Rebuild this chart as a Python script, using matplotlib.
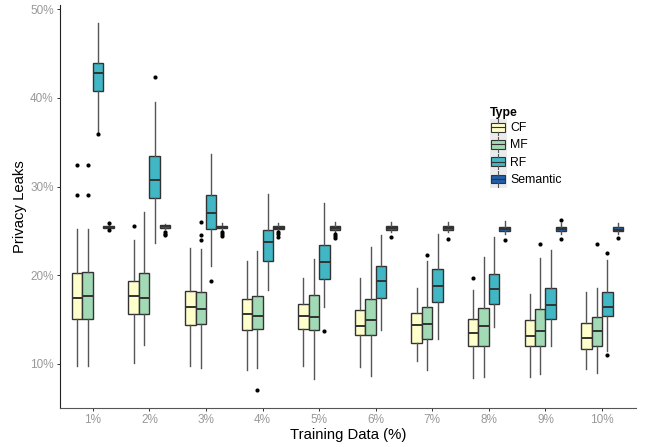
import matplotlib
matplotlib.use("Agg")
import matplotlib.pyplot as plt
from matplotlib.patches import Patch, Rectangle
from matplotlib.lines import Line2D
from matplotlib.legend_handler import HandlerBase

plt.rcParams['font.family'] = ['Liberation Sans', 'DejaVu Sans']

# training data sizes (x categories)
sizes = ['1%', '2%', '3%', '4%', '5%', '6%', '7%', '8%', '9%', '10%']
types = ['CF', 'MF', 'RF', 'Semantic']
colors = ['#ffffcc', '#a1dab4', '#41b6c4', '#225ea8']

# box stats (privacy leaks, %)
cf_lo = [9.7, 10.1, 9.7, 9.3, 9.7, 9.6, 10.3, 8.4, 8.5, 9.4]
cf_q1 = [15.0, 15.6, 14.4, 13.8, 13.9, 13.2, 12.4, 12.0, 12.0, 11.7]
cf_med = [17.4, 17.7, 16.4, 15.6, 15.4, 14.3, 14.4, 13.5, 13.1, 12.9]
cf_q3 = [20.3, 19.3, 18.2, 17.3, 16.8, 16.1, 15.7, 15.0, 14.9, 14.6]
cf_hi = [25.2, 24.0, 23.1, 21.6, 19.7, 19.7, 18.5, 18.3, 17.85, 18.15]
cf_out = [[32.4, 29.0], [25.5], [], [], [], [], [], [19.7], [], []]

mf_lo = [9.7, 12.1, 9.5, 9.5, 8.3, 8.6, 9.3, 8.5, 8.9, 8.95]
mf_q1 = [15.0, 15.6, 14.5, 13.9, 13.8, 13.2, 12.8, 12.0, 12.0, 12.0]
mf_med = [17.6, 17.4, 16.2, 15.4, 15.3, 14.9, 14.5, 14.3, 13.75, 13.7]
mf_q3 = [20.4, 20.3, 18.1, 17.7, 17.8, 17.3, 16.4, 16.3, 16.2, 15.3]
mf_hi = [25.2, 27.1, 23.0, 22.7, 21.8, 23.2, 21.6, 22.1, 21.9, 18.5]
mf_out = [[32.4, 29.0], [], [26.0, 24.5, 24.0], [7.1], [], [], [22.3], [], [23.5], [23.5]]

rf_lo = [36.2, 23.6, 21.0, 18.3, 16.4, 13.8, 12.8, 14.2, 12.0, 11.4]
rf_q1 = [40.8, 28.7, 25.2, 21.6, 19.6, 17.4, 16.95, 16.8, 15.1, 15.4]
rf_med = [42.8, 30.7, 27.0, 23.75, 21.5, 19.3, 18.8, 18.4, 16.6, 16.45]
rf_q3 = [44.0, 33.4, 29.0, 25.1, 23.4, 21.0, 20.7, 20.1, 18.6, 18.15]
rf_hi = [48.5, 39.6, 33.7, 29.2, 28.1, 24.5, 24.6, 24.3, 22.8, 21.7]
rf_out = [[35.9], [42.4], [19.3], [], [13.7], [], [], [], [], [22.5, 10.95]]

sem_lo = [25.15, 25.2, 25.15, 25.1, 24.9, 24.9, 24.9, 24.7, 24.7, 24.7]
sem_q1 = [25.3, 25.35, 25.3, 25.25, 25.1, 25.1, 25.1, 24.95, 24.95, 24.95]
sem_med = [25.45, 25.5, 25.4, 25.35, 25.3, 25.3, 25.3, 25.2, 25.2, 25.15]
sem_q3 = [25.6, 25.65, 25.6, 25.5, 25.55, 25.5, 25.5, 25.45, 25.45, 25.4]
sem_hi = [25.75, 25.8, 25.85, 25.9, 26.0, 26.0, 26.0, 26.1, 25.85, 25.9]
sem_out = [[25.85, 25.1], [24.9, 24.7, 24.5], [24.9, 24.6, 24.4], [24.85, 24.6, 24.3],
           [24.6, 24.4, 24.25], [24.3], [24.1], [24.0], [26.2, 24.05], [24.2]]

series = [
    (cf_lo, cf_q1, cf_med, cf_q3, cf_hi, cf_out),
    (mf_lo, mf_q1, mf_med, mf_q3, mf_hi, mf_out),
    (rf_lo, rf_q1, rf_med, rf_q3, rf_hi, rf_out),
    (sem_lo, sem_q1, sem_med, sem_q3, sem_hi, sem_out),
]


class BoxKey(HandlerBase):
    def create_artists(self, legend, orig_handle, xdescent, ydescent,
                       width, height, fontsize, trans):
        x0, y0 = -xdescent, -ydescent
        bg = Rectangle((x0, y0), width, height, fc='#ebebeb', ec='none', transform=trans)
        box = Rectangle((x0 + width * 0.1, y0 + height * 0.25), width * 0.8, height * 0.5,
                        fc=orig_handle.get_facecolor(), ec='#333333', lw=0.8, transform=trans)
        med = Line2D([x0 + width * 0.1, x0 + width * 0.9], [y0 + height * 0.5] * 2,
                     color='#333333', lw=0.8, transform=trans)
        w1 = Line2D([x0 + width * 0.5] * 2, [y0 + height * 0.75, y0 + height * 0.95],
                    color='#555555', lw=0.8, transform=trans)
        w2 = Line2D([x0 + width * 0.5] * 2, [y0 + height * 0.05, y0 + height * 0.25],
                    color='#555555', lw=0.8, transform=trans)
        return [bg, box, w1, w2, med]


def main():
    fig = plt.figure(figsize=(6.49, 4.47), dpi=100)
    ax = fig.add_axes([0.0925, 0.087, 0.8875, 0.902])

    step = 0.185
    for k, (lo, q1, med, q3, hi, out) in enumerate(series):
        stats = []
        for i in range(len(sizes)):
            stats.append(dict(whislo=lo[i], q1=q1[i], med=med[i], q3=q3[i],
                              whishi=hi[i], fliers=out[i]))
        pos = [i + 1 + (k - 1.5) * step for i in range(len(sizes))]
        ax.bxp(stats, positions=pos, widths=step, patch_artist=True, showcaps=False,
               boxprops=dict(facecolor=colors[k], edgecolor='#333333', linewidth=1.0),
               medianprops=dict(color='#333333', linewidth=1.4),
               whiskerprops=dict(color='#555555', linewidth=1.0),
               flierprops=dict(marker='o', markersize=3.0, markerfacecolor='black',
                               markeredgecolor='none'))

    ax.set_xlim(0.42, 10.6)
    ax.set_ylim(5.0, 50.5)
    ax.set_xticks(range(1, len(sizes) + 1))
    ax.set_xticklabels(sizes)
    ax.set_yticks([10, 20, 30, 40, 50])
    ax.set_yticklabels(['10%', '20%', '30%', '40%', '50%'])

    for s in ['top', 'right']:
        ax.spines[s].set_visible(False)
    ax.spines['left'].set_color('#222222')
    ax.spines['bottom'].set_color('#555555')
    ax.tick_params(axis='both', colors='#333333', labelcolor='#999999',
                   labelsize=8.5, length=2.5, width=0.7, pad=2)

    ax.set_xlabel('Training Data (%)', fontsize=10.7, labelpad=1)
    ax.set_ylabel('Privacy Leaks', fontsize=10.7, labelpad=2)

    handles = [Patch(facecolor=c) for c in colors]
    leg = ax.legend(handles, types, title='Type', loc='upper left',
                    bbox_to_anchor=(481 / 649, 1 - 98 / 447), bbox_transform=fig.transFigure,
                    frameon=False, fontsize=8.8, handler_map={Patch: BoxKey()},
                    handlelength=1.4, handleheight=1.8, handletextpad=0.3,
                    labelspacing=0.0, borderpad=0.2, alignment='left')
    leg.get_title().set_fontweight('bold')
    leg.get_title().set_fontsize(8.8)

    fig.savefig('out.png', dpi=100)


if __name__ == "__main__":
    main()
